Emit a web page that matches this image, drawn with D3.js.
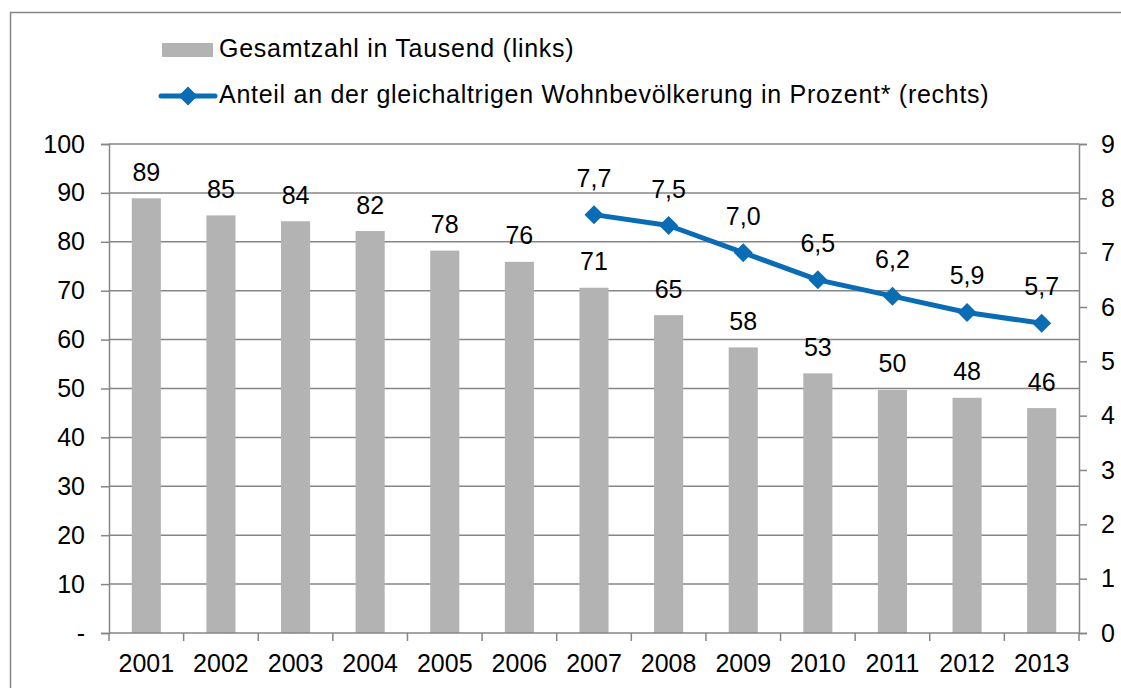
<!DOCTYPE html>
<html><head><meta charset="utf-8">
<script src="https://cdn.jsdelivr.net/npm/d3@7"></script>
<style>body{margin:0;background:#fff}svg{display:block;font-family:"Liberation Sans",Arial,sans-serif}</style>
</head><body><svg id="c" width="1121" height="688"></svg>
<script>
const years = ["2001","2002","2003","2004","2005","2006","2007","2008","2009","2010","2011","2012","2013"];
const totals = [88.9,85.4,84.2,82.2,78.2,75.9,70.6,65.0,58.4,53.1,49.7,48.1,46.0];
const totalLabels = ["89","85","84","82","78","76","71","65","58","53","50","48","46"];
const shareYears = ["2007","2008","2009","2010","2011","2012","2013"];
const shares = [7.7,7.5,7.0,6.5,6.2,5.9,5.7];
const shareLabels = ["7,7","7,5","7,0","6,5","6,2","5,9","5,7"];
const leftTicks = [0,10,20,30,40,50,60,70,80,90,100];
const rightTicks = [0,1,2,3,4,5,6,7,8,9];
const legendLabels = ["Gesamtzahl in Tausend (links)","Anteil an der gleichaltrigen Wohnbevölkerung in Prozent* (rechts)"];

const svg = d3.select("#c");
const L=109, R=1079, T=144, B=633;
const FS=25;
const grey="#868686", barC="#b3b3b3", blue="#0a6cb5";
const x = d3.scaleBand().domain(years).range([L,R]).paddingInner(0.61).paddingOuter(0.305);
const xb = d3.scaleBand().domain(years).range([L,R]);
const yL = d3.scaleLinear().domain([0,100]).range([B,T]);
const yR = d3.scaleLinear().domain([0,9]).range([B,T]);

// outer border
svg.append("path").attr("d","M10.5,688 V12.5 H1121").attr("fill","none").attr("stroke",grey).attr("stroke-width",1.5);

// gridlines
svg.append("g").selectAll("line").data(leftTicks.filter(d=>d>0)).join("line")
  .attr("x1",L).attr("x2",R).attr("y1",d=>yL(d)).attr("y2",d=>yL(d))
  .attr("stroke",grey).attr("stroke-width",1.5);

// bars
svg.append("g").selectAll("rect").data(years).join("rect")
  .attr("x",d=>x(d)).attr("width",x.bandwidth())
  .attr("y",(d,i)=>yL(totals[i])).attr("height",(d,i)=>B-yL(totals[i]))
  .attr("fill",barC);

// left axis
const gl = svg.append("g").attr("transform",`translate(${L},0)`)
  .call(d3.axisLeft(yL).tickValues(leftTicks).tickSize(8).tickPadding(16).tickFormat(d=>d===0?"-":d));
// right axis
const gr = svg.append("g").attr("transform",`translate(${R},0)`)
  .call(d3.axisRight(yR).tickValues(rightTicks).tickSize(8).tickPadding(14));
// bottom axis
const gb = svg.append("g").attr("transform",`translate(0,${B})`)
  .call(d3.axisBottom(xb).tickSize(0).tickPadding(21));
[gl,gr,gb].forEach(g=>{
  g.attr("font-size",FS).attr("font-family","Liberation Sans, Arial, sans-serif");
  g.select(".domain").attr("stroke",grey).attr("stroke-width",1.5);
  g.selectAll(".tick line").attr("stroke",grey).attr("stroke-width",1.5);
  g.selectAll("text").attr("fill","#000");
});
gb.select(".domain").attr("d",`M${L},0H${R}`);
// category boundary ticks
svg.append("g").selectAll("line").data(d3.range(years.length+1)).join("line")
  .attr("x1",i=>L+i*xb.step()).attr("x2",i=>L+i*xb.step()).attr("y1",B).attr("y2",B+8)
  .attr("stroke",grey).attr("stroke-width",1.5);

// bar labels
svg.append("g").selectAll("text").data(years).join("text")
  .attr("x",d=>x(d)+x.bandwidth()/2).attr("y",(d,i)=>yL(totals[i])-17.5)
  .attr("text-anchor","middle").attr("font-size",FS).text((d,i)=>totalLabels[i]);

// line
const cx = d=>xb(d)+xb.bandwidth()/2;
svg.append("path").datum(shareYears)
  .attr("d",d3.line().x(d=>cx(d)).y((d,i)=>yR(shares[i])))
  .attr("fill","none").attr("stroke",blue).attr("stroke-width",5).attr("stroke-linejoin","round");
const diamond = (cxp,cyp,r)=>`M${cxp},${cyp-r}L${cxp+r},${cyp}L${cxp},${cyp+r}L${cxp-r},${cyp}Z`;
svg.append("g").selectAll("path").data(shareYears).join("path")
  .attr("d",(d,i)=>diamond(cx(d),yR(shares[i]),9.5)).attr("fill",blue);
svg.append("g").selectAll("text").data(shareYears).join("text")
  .attr("x",d=>cx(d)).attr("y",(d,i)=>yR(shares[i])-28)
  .attr("text-anchor","middle").attr("font-size",FS).text((d,i)=>shareLabels[i]);

// legend
svg.append("rect").attr("x",162).attr("y",43).attr("width",51).attr("height",14).attr("fill",barC);
svg.append("text").attr("x",219).attr("y",57).attr("font-size",FS).attr("letter-spacing",0.72).text(legendLabels[0]);
svg.append("line").attr("x1",161).attr("x2",215).attr("y1",96).attr("y2",96).attr("stroke",blue).attr("stroke-width",5).attr("stroke-linecap","round");
svg.append("path").attr("d",diamond(188,96,9.5)).attr("fill",blue);
svg.append("text").attr("x",219).attr("y",103).attr("font-size",FS).attr("letter-spacing",0.72).text(legendLabels[1]);
</script></body></html>
